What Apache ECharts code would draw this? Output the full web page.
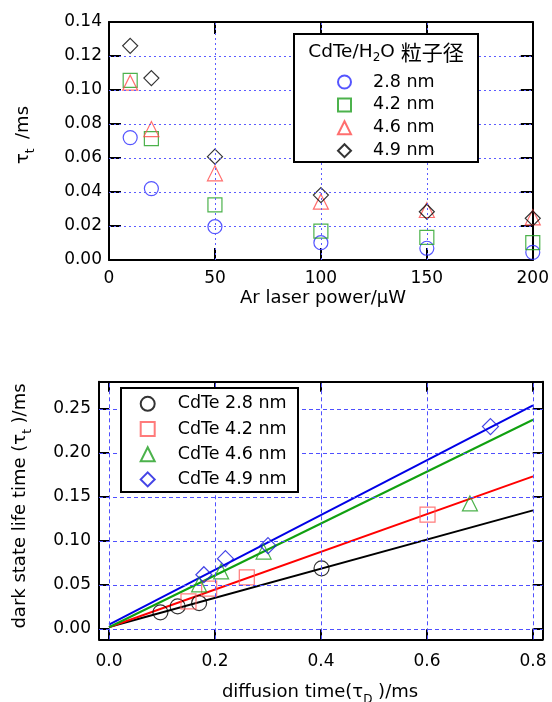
<!DOCTYPE html>
<html><head><meta charset="utf-8">
<script src="https://cdn.jsdelivr.net/npm/echarts@6/dist/echarts.min.js"></script>
<style>html,body{margin:0;padding:0;background:#fff}#c{width:552px;height:702px}</style>
</head><body><div id="c"></div>
<script>
// ---- top chart data ----
const topX = [10, 20, 50, 100, 150, 200];
const top28 = [0.072, 0.042, 0.0196, 0.0102, 0.0069, 0.0045];
const top42 = [0.1057, 0.0714, 0.0324, 0.017, 0.0133, 0.0102];
const top46 = [0.1043, 0.077, 0.051, 0.0343, 0.0294, 0.0251];
const top49 = [0.126, 0.107, 0.0608, 0.0382, 0.0284, 0.0245];
const topNames = ['2.8 nm', '4.2 nm', '4.6 nm', '4.9 nm'];
// ---- bottom chart data ----
const botNames = ['CdTe 2.8 nm', 'CdTe 4.2 nm', 'CdTe 4.6 nm', 'CdTe 4.9 nm'];
const bot28x = [0.097, 0.1295, 0.170, 0.401];
const bot28y = [0.0189, 0.0257, 0.0295, 0.0689];
const bot42x = [0.150, 0.189, 0.260, 0.601];
const bot42y = [0.0314, 0.0458, 0.0587, 0.130];
const bot46x = [0.170, 0.2116, 0.2917, 0.681];
const bot46y = [0.0507, 0.0655, 0.088, 0.1427];
const bot49x = [0.179, 0.2197, 0.300, 0.7197];
const bot49y = [0.0617, 0.0799, 0.0947, 0.230];
const fitX = [0, 0.8];
const fit28 = [0.0023, 0.1348];
const fit42 = [0.002, 0.1734];
const fit46 = [0.002, 0.2378];
const fit49 = [0.005, 0.254];
// ---- ticks / grid lines ----
const topXTicks = [0, 50, 100, 150, 200];
const topYTicks = [0, 0.02, 0.04, 0.06, 0.08, 0.10, 0.12, 0.14];
const topXGrid = [50, 100, 150];
const topYGrid = [0.02, 0.04, 0.06, 0.08, 0.10, 0.12];
const botXTicks = [0, 0.2, 0.4, 0.6, 0.8];
const botYTicks = [0, 0.05, 0.10, 0.15, 0.20, 0.25];

const FONT = 'DejaVu Sans';
const zip = (xs, ys) => xs.map((x, i) => [x, ys[i]]);

const chart = echarts.init(document.getElementById('c'), null, {renderer: 'canvas'});

function ax(o) {
  return {
    type: 'value', gridIndex: o.gridIndex, position: o.position, min: o.min, max: o.max, z: 2,
    axisLine: {show: true, onZero: false, lineStyle: {color: '#000', width: 2}},
    axisTick: {show: true, inside: true, length: o.tickLen || 12, customValues: o.custom.slice(),
               lineStyle: {color: '#000', width: 2}},
    axisLabel: {show: !!o.labels, color: '#000', fontSize: 17, fontFamily: FONT, margin: o.margin || 8,
                customValues: o.custom.slice(), formatter: o.formatter || (v => String(v))},
    splitLine: {show: false}
  };
}

function hollow(color, bw) { return {color: 'transparent', borderColor: color, borderWidth: bw || 1.2}; }

function gridLines(xi, yi, xs, ys, color, type) {
  return {
    type: 'scatter', name: 'grid' + xi, xAxisIndex: xi, yAxisIndex: yi, data: [], z: 1, silent: true,
    markLine: {
      silent: true, symbol: ['none', 'none'], label: {show: false}, animation: false,
      lineStyle: {color: color, width: 1, type: type, opacity: 1},
      emphasis: {disabled: true},
      data: xs.map(v => ({xAxis: v})).concat(ys.map(v => ({yAxis: v})))
    }
  };
}

const tSym = [['circle', '#2a2aff', 14], ['rect', '#1f9f1f', 14], ['triangle', '#ff4a4a', 15], ['diamond', '#000', 15]];
const topData = [top28, top42, top46, top49];
const bSym = [['circle', '#000', 15], ['rect', '#ff5a5a', 15], ['triangle', '#1f9f1f', 15], ['diamond', '#1515e0', 16]];
const botData = [[bot28x, bot28y], [bot42x, bot42y], [bot46x, bot46y], [bot49x, bot49y]];
const fits = [fit28, fit42, fit46, fit49];
const fitColors = ['#000', '#ff0000', '#10a010', '#0000e6'];

const series = [];
series.push(gridLines(0, 0, topXGrid, topYGrid, '#5c5cff', [2, 3]));
series.push(gridLines(2, 2, botXTicks, botYTicks, '#4f4fff', [4, 3]));
topData.forEach((d, i) => series.push({
  type: 'scatter', name: topNames[i], xAxisIndex: 0, yAxisIndex: 0,
  symbol: tSym[i][0], symbolSize: tSym[i][2], itemStyle: hollow(tSym[i][1]),
  data: zip(topX, d), z: 3
}));
fits.forEach((f, i) => series.push({
  type: 'line', name: 'fit ' + i, xAxisIndex: 2, yAxisIndex: 2, showSymbol: false,
  lineStyle: {color: fitColors[i], width: 2}, data: zip(fitX, f), z: 3, silent: true
}));
botData.forEach((d, i) => series.push({
  type: 'scatter', name: botNames[i], xAxisIndex: 2, yAxisIndex: 2,
  symbol: bSym[i][0], symbolSize: bSym[i][2], itemStyle: hollow(bSym[i][1]),
  data: zip(d[0], d[1]), z: 4
}));

const legText = {fontSize: 17.5, fontFamily: FONT, color: '#000'};

const option = {
  animation: false,
  backgroundColor: '#fff',
  grid: [
    {left: 109, top: 22, width: 424, height: 238},
    {left: 99, top: 381.7, width: 443.7, height: 257.6}
  ],
  xAxis: [
    ax({gridIndex: 0, position: 'bottom', min: 0, max: 200, custom: topXTicks, labels: true, margin: 10}),
    ax({gridIndex: 0, position: 'top', min: 0, max: 200, custom: topXTicks}),
    ax({gridIndex: 1, position: 'bottom', min: -0.018868, max: 0.81830, labels: true, margin: 14, tickLen: 10,
        custom: botXTicks, formatter: v => v.toFixed(1)}),
    ax({gridIndex: 1, position: 'top', min: -0.018868, max: 0.81830, tickLen: 10, custom: botXTicks})
  ],
  yAxis: [
    ax({gridIndex: 0, position: 'left', min: 0, max: 0.14, custom: topYTicks, labels: true, margin: 7,
        formatter: v => v.toFixed(2)}),
    ax({gridIndex: 0, position: 'right', min: 0, max: 0.14, custom: topYTicks}),
    ax({gridIndex: 1, position: 'left', min: -0.011705, max: 0.28102, labels: true, margin: 8, tickLen: 10,
        custom: botYTicks, formatter: v => v.toFixed(2)}),
    ax({gridIndex: 1, position: 'right', min: -0.011705, max: 0.28102, tickLen: 10, custom: botYTicks})
  ],
  legend: [
    {orient: 'vertical', left: 337, top: 73, padding: 0, itemWidth: 13, itemHeight: 13, itemGap: 4.9,
     data: topNames, textStyle: Object.assign({padding: [0, 0, 0, 17]}, legText), selectedMode: false, z: 7},
    {orient: 'vertical', left: 139.7, top: 394.8, padding: 0, itemWidth: 14, itemHeight: 14, itemGap: 7.2,
     data: botNames, textStyle: Object.assign({padding: [0, 0, 0, 18]}, legText), selectedMode: false, z: 7}
  ],
  graphic: [
    {type: 'rect', z: 6, shape: {x: 294, y: 34, width: 184, height: 128},
     style: {fill: '#fff', stroke: '#000', lineWidth: 2}},
    {type: 'rect', z: 6, shape: {x: 121, y: 388, width: 177, height: 104},
     style: {fill: '#fff', stroke: '#000', lineWidth: 2}},
    {type: 'text', z: 7, x: 386, y: 52, style: {
      text: '{n|CdTe/H}{s|2}{n|O }{c|粒子径}', align: 'center', verticalAlign: 'middle', fill: '#000',
      rich: {
        n: {fontSize: 18.5, fontFamily: FONT, lineHeight: 24, fill: '#000'},
        s: {fontSize: 12, fontFamily: FONT, lineHeight: 12, verticalAlign: 'bottom', fill: '#000'},
        c: {fontSize: 21, fontFamily: 'Noto Sans CJK JP', lineHeight: 24, fill: '#000'}
      }}},
    {type: 'text', z: 7, x: 23, y: 135, rotation: Math.PI / 2, style: {
      text: '{n|τ}{s|t }{n| /ms}', align: 'center', verticalAlign: 'middle', fill: '#000',
      rich: {
        n: {fontSize: 18, fontFamily: FONT, lineHeight: 28, fill: '#000'},
        s: {fontSize: 12, fontFamily: FONT, lineHeight: 12, verticalAlign: 'bottom', fill: '#000'}
      }}},
    {type: 'text', z: 7, x: 323, y: 298, style: {
      text: 'Ar laser power/μW', align: 'center', verticalAlign: 'middle', fill: '#000',
      fontSize: 18, fontFamily: FONT}},
    {type: 'text', z: 7, x: 20, y: 506, rotation: Math.PI / 2, style: {
      text: '{n|dark state life time (τ}{s|t}{n| )/ms}', align: 'center', verticalAlign: 'middle', fill: '#000',
      rich: {
        n: {fontSize: 18, fontFamily: FONT, lineHeight: 28, fill: '#000'},
        s: {fontSize: 12, fontFamily: FONT, lineHeight: 12, verticalAlign: 'bottom', fill: '#000'}
      }}},
    {type: 'text', z: 7, x: 320, y: 692, style: {
      text: '{n|diffusion time(τ}{s|D}{n| )/ms}', align: 'center', verticalAlign: 'middle', fill: '#000',
      rich: {
        n: {fontSize: 18, fontFamily: FONT, lineHeight: 28, fill: '#000'},
        s: {fontSize: 12, fontFamily: FONT, lineHeight: 12, verticalAlign: 'bottom', fill: '#000'}
      }}}
  ],
  series: series
};
chart.setOption(option);
</script>
</body></html>
